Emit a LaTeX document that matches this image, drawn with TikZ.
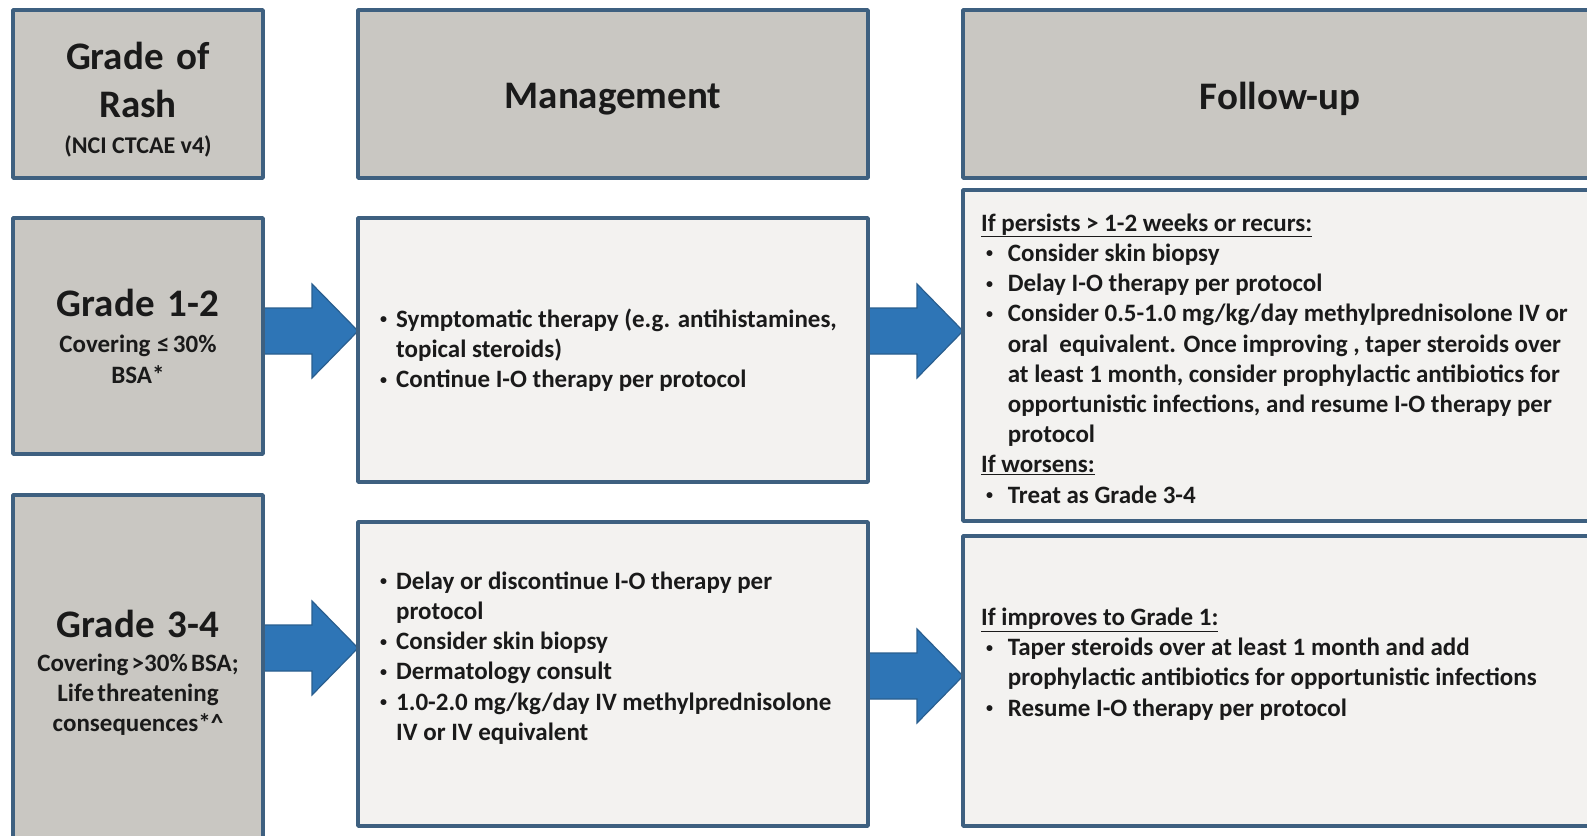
\documentclass[tikz,border=0pt]{standalone}
\usepackage{fontspec}
\setmainfont{Carlito}
\usepackage{xcolor}
\usepackage{tikz}
\usetikzlibrary{calc}
\usetikzlibrary{backgrounds}

\definecolor{boxline}{RGB}{62,96,128}
\definecolor{headfill}{RGB}{201,199,194}
\definecolor{bodyfill}{RGB}{243,242,240}
\definecolor{arrowfill}{RGB}{46,117,182}
\definecolor{arrowline}{RGB}{41,94,143}
\definecolor{inktext}{RGB}{26,26,26}

\newcommand{\bul}[1][0pt]{\hspace*{#1}\makebox[16pt][l]{\raisebox{3.5pt}{\fontsize{14}{14}\selectfont\textbullet}}}
\newcommand{\ind}[1][0pt]{\hspace*{\dimexpr #1+16pt\relax}}
\newcommand{\wsp}{\hspace{0.33em}}
\newcommand{\sinktext}[2]{\raisebox{-#1}[\height][\depth]{#2}}
% fat block arrow from one box to the next at the height of a level coordinate
\newcommand{\blockarrow}[3]{%
  \filldraw[bigarrow] ($(#1.east |- #3)+(0,-23)$) -- ($(#2.west |- #3)+(-46,-23)$)
    -- ++(0,-24) -- (#2.west |- #3) -- ($(#2.west |- #3)+(-46,47)$)
    -- ++(0,-24) -- ($(#1.east |- #3)+(0,23)$) -- cycle;}

\begin{document}
\begin{tikzpicture}[x=1pt, y=-1pt, line join=round,
  box/.style={draw=boxline, line width=3.5pt, rectangle, outer sep=0pt,
    inner sep=0pt, anchor=north west, text=inktext, font=\bfseries},
  head/.style={box, fill=headfill, align=center},
  body/.style={box, fill=bodyfill},
  list/.style={anchor=west, align=left, inner sep=0pt, text=inktext,
    font=\fontsize{25}{30.2}\selectfont\bfseries},
  bigarrow/.style={fill=arrowfill, draw=arrowline, line width=1.2pt, line join=miter}]

  \useasboundingbox (0,0) rectangle (1587,835);
  \clip (0,0) rectangle (1587,835);

  % column heads
  \node[head, minimum width=250, minimum height=168] (hgrade) at (13,10)
    {\sinktext{6pt}{\parbox{246pt}{\centering{\fontsize{39}{48}\selectfont Grade\wsp of\\Rash\par}{\fontsize{24}{36}\selectfont (NCI CTCAE v4)\par}}}};
  \node[head, minimum width=510, minimum height=168, font=\fontsize{39}{48}\selectfont\bfseries] (hmanage) at (358,10)
    {\sinktext{5pt}{Management}};
  \node[head, minimum width=634, minimum height=168, font=\fontsize{39}{48}\selectfont\bfseries] (hfollow) at (963,10)
    {\sinktext{5pt}{Follow-up}};

  % grade 1-2
  \node[head, minimum width=250, minimum height=236, text width=246] (g12) at (13,218)
    {{\fontsize{39}{48}\selectfont Grade\wsp 1-2\par}\vspace{5pt}{\fontsize{25}{31}\selectfont Covering\ \ ≤ 30\%\\BSA*\par}};
  \node[body, minimum width=510, minimum height=264] (m12) at (358,218) {};
  \node[body, minimum width=634, minimum height=331] (f12) at (963,190) {};

  % grade 3-4
  \node[head, minimum width=250, minimum height=355, text width=246] (g34) at (13,495)
    {{\fontsize{39}{48}\selectfont Grade\wsp 3-4\par}\vspace{4pt}{\fontsize{25}{30}\selectfont Covering >30\% BSA;\\Life threatening\\consequences*\textasciicircum\par}};
  \node[body, minimum width=510, minimum height=304] (m34) at (358,522) {};
  \node[body, minimum width=634, minimum height=290] (f34) at (963,536) {};

  % box texts
  \node[list] (m12txt) at ($(m12.west)+(22,0)$)
    {\bul Symptomatic therapy (e.g. antihistamines,\\
     \ind topical steroids)\\
     \bul Continue I-O therapy per protocol};
  \node[list] (m34txt) at ($(m34.west)+(22,-16)$)
    {\bul Delay or discontinue I-O therapy per\\
     \ind protocol\\
     \bul Consider skin biopsy\\
     \bul Dermatology consult\\
     \bul 1.0-2.0 mg/kg/day IV methylprednisolone\\
     \ind IV or IV equivalent};
  \node[list] (f12txt) at ($(f12.west)+(18,3)$)
    {\underline{If persists > 1-2 weeks or recurs:}\\
     \bul[5pt] Consider skin biopsy\\
     \bul[5pt] Delay I-O therapy per protocol\\
     \bul[5pt] Consider 0.5-1.0 mg/kg/day methylprednisolone IV or\\
     \ind[5pt] oral\ \ equivalent. Once improving , taper steroids over\\
     \ind[5pt] at least 1 month, consider prophylactic antibiotics for\\
     \ind[5pt] opportunistic infections, and resume I-O therapy per\\
     \ind[5pt] protocol\\
     \underline{If worsens:}\\
     \bul[5pt] Treat as Grade 3-4};
  \node[list] (f34txt) at ($(f34.west)+(18,-17)$)
    {\underline{If improves to Grade 1:}\\
     \bul[5pt] Taper steroids over at least 1 month and add\\
     \ind[5pt] prophylactic antibiotics for opportunistic infections\\
     \bul[5pt] Resume I-O therapy per protocol};

  % arrows
  \coordinate (lev1) at (0,331);
  \coordinate (lev2) at (0,648);
  \coordinate (lev3) at (0,676);
  \begin{scope}[on background layer]
    \fill[white] (0,0) rectangle (1587,835);
    \blockarrow{g12}{m12}{lev1}
    \blockarrow{m12}{f12}{lev1}
    \blockarrow{g34}{m34}{lev2}
    \blockarrow{m34}{f34}{lev3}
  \end{scope}
\end{tikzpicture}
\end{document}
